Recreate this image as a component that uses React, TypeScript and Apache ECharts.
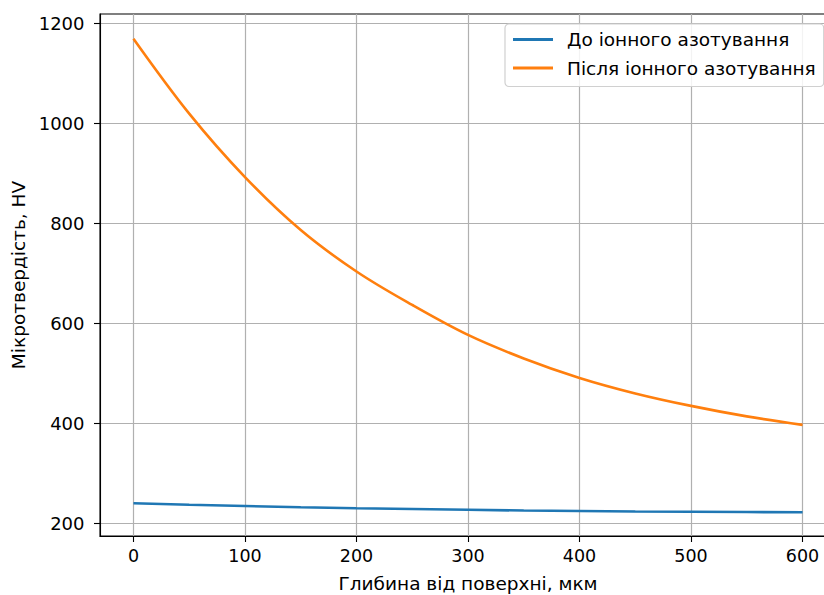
import React, { useEffect, useRef } from "react";
import * as echarts from "echarts";

const depth = [0, 50, 100, 150, 200, 250, 300, 350, 400, 450, 500, 550, 600];
const beforeNitriding = [240, 237, 234.5, 232, 230, 228.5, 227, 225.5, 224.5, 223.5, 223, 222.5, 222];
const afterNitriding = [1170, 1020, 893, 787, 704, 637, 577, 530, 491, 460, 435, 414, 397];
const xTicks = [0, 100, 200, 300, 400, 500, 600];
const yTicks = [200, 400, 600, 800, 1000, 1200];
const seriesNames = ["До іонного азотування", "Після іонного азотування"];
const xTitle = "Глибина від поверхні, мкм";
const yTitle = "Мікротвердість, HV";

const FONT = "DejaVu Sans";

export default function App() {
  const ref = useRef<HTMLDivElement>(null);
  useEffect(() => {
    if (!ref.current) return;
    const chart = echarts.init(ref.current, undefined, { renderer: "svg" });
    const axisCommon = {
      axisLine: { show: true, onZero: false, lineStyle: { color: "#000", width: 1.1 } },
      axisTick: { show: true, length: 6, lineStyle: { color: "#000", width: 1.1 } },
      splitLine: { show: true, lineStyle: { color: "#b0b0b0", width: 1.2 } },
      nameTextStyle: { fontFamily: FONT, fontSize: 18.5, color: "#000" },
    };
    chart.setOption({
      animation: false,
      backgroundColor: "#fff",
      grid: {
        left: 100,
        top: 14,
        right: 4,
        bottom: 59,
        show: true,
        borderColor: "#000",
        borderWidth: 1.1,
        containLabel: false,
        outerBoundsMode: "none",
      },
      legend: {
        orient: "vertical",
        left: 505,
        top: 24,
        padding: [6, 8, 9, 8],
        itemWidth: 40,
        itemHeight: 3,
        itemGap: 9.5,
        icon: "rect",
        backgroundColor: "rgba(255,255,255,0.85)",
        borderColor: "#d0d0d0",
        borderWidth: 1.2,
        borderRadius: 4,
        textStyle: { fontFamily: FONT, fontSize: 18.5, color: "#000", padding: [0, 0, 0, 9] },
        data: seriesNames,
      },
      xAxis: {
        type: "value",
        min: -30,
        max: 630,
        name: xTitle,
        nameLocation: "middle",
        nameGap: 38,
        ...axisCommon,
        axisTick: { ...axisCommon.axisTick, customValues: xTicks },
        axisLabel: {
          customValues: xTicks,
          fontFamily: FONT,
          fontSize: 17.5,
          color: "#000",
          margin: 11,
          formatter: (v: number) => String(v),
        },
      },
      yAxis: {
        type: "value",
        min: 174.5,
        max: 1219.5,
        name: yTitle,
        nameLocation: "middle",
        nameGap: 70,
        nameRotate: 90,
        ...axisCommon,
        axisTick: { ...axisCommon.axisTick, customValues: yTicks },
        axisLabel: {
          customValues: yTicks,
          fontFamily: FONT,
          fontSize: 18,
          color: "#000",
          margin: 15.5,
          formatter: (v: number) => String(v),
        },
      },
      series: [
        {
          name: seriesNames[0],
          type: "line",
          data: depth.map((d, i) => [d, beforeNitriding[i]]),
          showSymbol: false,
          symbol: "none",
          lineStyle: { color: "#1f77b4", width: 2.6 },
          itemStyle: { color: "#1f77b4" },
        },
        {
          name: seriesNames[1],
          type: "line",
          data: depth.map((d, i) => [d, afterNitriding[i]]),
          showSymbol: false,
          symbol: "none",
          smooth: 0.35,
          lineStyle: { color: "#ff7f0e", width: 2.6 },
          itemStyle: { color: "#ff7f0e" },
        },
      ],
    });
    return () => chart.dispose();
  }, []);
  return (
    <div
      style={{ position: "absolute", left: 0, top: 0, width: 824, height: 595, overflow: "hidden", background: "#fff" }}
    >
      <div ref={ref} style={{ width: 840, height: 595 }} />
    </div>
  );
}
